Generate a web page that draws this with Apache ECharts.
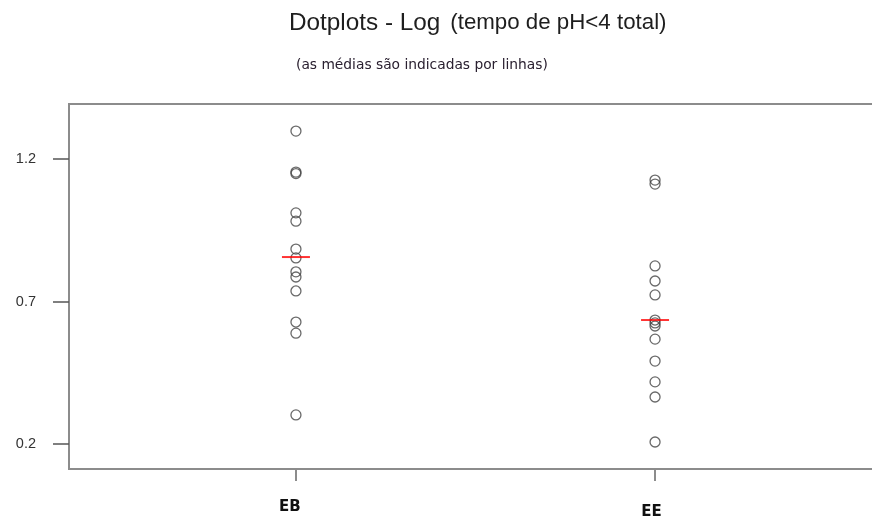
<!DOCTYPE html>
<html>
<head>
<meta charset="utf-8">
<script src="https://cdn.jsdelivr.net/npm/echarts@6/dist/echarts.min.js"></script>
<style>
  html, body { margin: 0; padding: 0; background: #fff; }
  #chart { width: 872px; height: 518px; }
</style>
</head>
<body>
<div id="chart"></div>
<script>
// Groups shown along the horizontal axis
const categories = ['EB', 'EE'];
// Log of total time with pH<4, one value per subject
const ebValues = [1.298, 1.154, 1.149, 1.011, 0.982, 0.884, 0.853, 0.804, 0.786, 0.737, 0.628, 0.589, 0.302];
const eeValues = [1.126, 1.112, 0.825, 0.772, 0.723, 0.635, 0.625, 0.614, 0.568, 0.491, 0.418, 0.365, 0.207];
// Group means, drawn as short red bars
const means = [0.856, 0.635];
// Tick labels on the value axis
const yTicks = [0.2, 0.7, 1.2];

const groupPos = categories.map((c, i) => i + 1);

const chart = echarts.init(document.getElementById('chart'), null, { renderer: 'canvas' });

const dotSeries = (vals, i) => ({
  type: 'scatter',
  data: vals.map(v => [groupPos[i], v]),
  symbol: 'circle',
  symbolSize: 10,
  itemStyle: { color: 'rgba(255,255,255,0)', borderColor: '#444', borderWidth: 1.3 },
  silent: true,
  z: 3
});

chart.setOption({
  animation: false,
  backgroundColor: '#ffffff',
  title: [
    {
      text: '{a|Dotplots - Log}{b|(tempo de pH<4 total)}',
      left: 284,
      top: 6,
      textStyle: {
        rich: {
          a: { fontFamily: 'Liberation Sans, Arial, sans-serif', fontSize: 24.3, fontWeight: 'normal', color: '#1e1e1e' },
          b: { fontFamily: 'Liberation Sans, Arial, sans-serif', fontSize: 22.3, fontWeight: 'normal', color: '#1e1e1e', padding: [0, 0, 0, 10] }
        }
      }
    },
    {
      text: '(as médias são indicadas por linhas)',
      left: 291,
      top: 53,
      textStyle: { fontFamily: 'DejaVu Sans, Verdana, sans-serif', fontSize: 13.8, fontWeight: 'normal', color: '#2a2030' }
    }
  ],
  grid: {
    left: 69, top: 104, width: 813, height: 365,
    outerBoundsMode: 'none',
    show: true, borderColor: '#8c8c8c', borderWidth: 2, backgroundColor: 'transparent'
  },
  xAxis: {
    type: 'value',
    min: 0.368,
    max: 2.632,
    axisLine: { show: false },
    splitLine: { show: false },
    axisTick: {
      show: true, customValues: groupPos, length: 12, inside: false,
      lineStyle: { color: '#8c8c8c', width: 2 }
    },
    axisLabel: {
      customValues: groupPos,
      margin: 31,
      formatter: v => (v === 1 ? '{a|' + categories[0] + '}' : '{b|' + categories[1] + '}'),
      rich: {
        a: { fontFamily: 'DejaVu Sans, Verdana, sans-serif', fontWeight: 'bold', fontSize: 15, color: '#111', padding: [0, 12, 0, 0] },
        b: { fontFamily: 'DejaVu Sans, Verdana, sans-serif', fontWeight: 'bold', fontSize: 15, color: '#111', padding: [5, 7, 0, 0] }
      }
    }
  },
  yAxis: {
    type: 'value',
    min: 0.1123,
    max: 1.393,
    axisLine: { show: false },
    splitLine: { show: false },
    axisTick: {
      show: true, customValues: yTicks, length: 16,
      lineStyle: { color: '#555', width: 1.5 }
    },
    axisLabel: {
      customValues: yTicks,
      margin: 33,
      formatter: v => v.toFixed(1),
      fontFamily: 'Liberation Sans, Arial, sans-serif',
      fontSize: 14.5,
      color: '#333'
    }
  },
  series: [
    dotSeries(ebValues, 0),
    dotSeries(eeValues, 1),
    {
      type: 'scatter',
      data: means.map((m, i) => [groupPos[i], m]),
      symbol: 'rect',
      symbolSize: [28, 2],
      itemStyle: { color: '#ff0000' },
      silent: true,
      z: 4
    }
  ]
});
</script>
</body>
</html>
